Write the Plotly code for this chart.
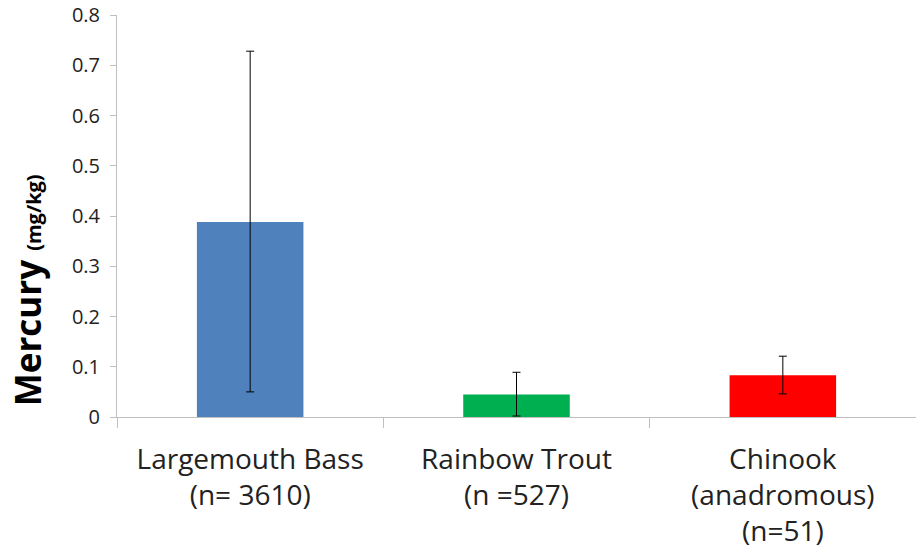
import plotly.graph_objects as go

categories = ["Largemouth Bass<br>(n= 3610)", "Rainbow Trout<br>(n =527)", "Chinook<br>(anadromous)<br>(n=51)"]
means = [0.388, 0.045, 0.083]
err_plus = [0.340, 0.044, 0.038]
err_minus = [0.338, 0.043, 0.037]
colors = ["#4f81bd", "#00b050", "#ff0000"]
y_ticks = [0, 0.1, 0.2, 0.3, 0.4, 0.5, 0.6, 0.7, 0.8]
y_tick_text = ["0", "0.1", "0.2", "0.3", "0.4", "0.5", "0.6", "0.7", "0.8"]

fig = go.Figure(go.Bar(
    x=categories, y=means, marker=dict(color=colors, line=dict(width=0)),
    width=0.4,
    error_y=dict(type="data", symmetric=False, array=err_plus, arrayminus=err_minus,
                 color="black", thickness=1, width=4),
))
fig.update_layout(
    width=916, height=556,
    margin=dict(l=117, r=0, t=15, b=139),
    plot_bgcolor="white", paper_bgcolor="white",
    font=dict(family="Open Sans", color="black"),
    showlegend=False,
)
fig.add_annotation(
    text="<b>Mercury <span style='font-size:20px'>(mg/kg)</span></b>",
    font=dict(size=35, family="Open Sans", color="black"),
    textangle=-90, xref="paper", yref="paper",
    x=-0.111, y=0.316, xanchor="center", yanchor="middle", showarrow=False,
)
fig.update_yaxes(range=[0, 0.8], tickvals=y_ticks, ticktext=y_tick_text, automargin=False,
                 showgrid=False, showline=True, linecolor="#bfbfbf", linewidth=1,
                 ticks="outside", ticklen=6, tickcolor="#bfbfbf", ticklabelstandoff=6,
                 tickfont=dict(size=20, color="#222"), zeroline=False)
fig.update_xaxes(showline=True, linecolor="#bfbfbf", linewidth=1, automargin=False,
                 ticks="outside", ticklen=10, tickcolor="#bfbfbf", tickson="boundaries",
                 ticklabelstandoff=17,
                 tickfont=dict(size=28, color="#222"), showgrid=False)
fig.write_html("out.html", config={"displayModeBar": False},
               post_script="document.body.style.margin='0';")
